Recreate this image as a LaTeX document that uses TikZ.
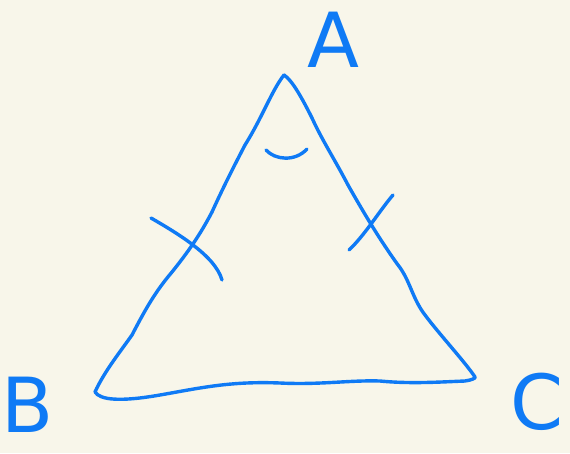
\documentclass[tikz,border=0pt]{standalone}
\usepackage{fontspec}
\setmainfont{DejaVu Sans}
\definecolor{bg}{HTML}{F8F6EA}
\definecolor{ink}{HTML}{0F7AF5}
\begin{document}
\begin{tikzpicture}[x=1pt,y=-1pt,
  pen/.style={draw=ink,line width=3.4pt,line cap=round,line join=round},
  lbl/.style={text=ink,font=\fontsize{76}{76}\selectfont,inner sep=0pt}]
\fill[bg] (0,0) rectangle (570,453);
\useasboundingbox (0,0) rectangle (570,453);
% vertices
\coordinate (A) at (284,75);
\coordinate (B) at (95,392);
\coordinate (C) at (475,377);
% sides
\draw[pen] (A) .. controls (272,90) and (262,118) .. (245,145)
  .. controls (232,170) and (222,190) .. (212,212)
  .. controls (200,235) and (188,252) .. (172,272)
  .. controls (155,292) and (145,310) .. (132,335)
  .. controls (120,352) and (104,372) .. (B);
\draw[pen] (B) .. controls (100,400) and (120,402) .. (160,395)
  .. controls (200,388) and (230,381) .. (280,383)
  .. controls (320,385) and (350,380) .. (380,381)
  .. controls (410,384) and (440,382) .. (465,381)
  .. controls (472,380) and (476,378) .. (C);
\draw[pen] (C) .. controls (465,362) and (440,335) .. (425,315)
  .. controls (412,298) and (410,280) .. (398,265)
  .. controls (380,240) and (365,215) .. (348,185)
  .. controls (335,160) and (322,140) .. (312,118)
  .. controls (302,98) and (292,80) .. (A);
% tick marks
\coordinate (t1a) at (151,218);
\coordinate (t1b) at (222,280);
\draw[pen] (t1a) .. controls (175,232) and (215,255) .. (t1b);
\coordinate (t2a) at (393,195);
\coordinate (t2b) at (349,250);
\draw[pen] (t2a) .. controls (380,210) and (365,235) .. (t2b);
% angle arc
\coordinate (r1) at (266,150);
\coordinate (r2) at (307,149);
\draw[pen] (r1) .. controls (275,160) and (295,162) .. (r2);
% labels
\node[lbl] (la) at (333,40) {A};
\node[lbl] (lb) at (28,405) {B};
\node[lbl] (lc) at (537,402) {C};
\end{tikzpicture}
\end{document}
